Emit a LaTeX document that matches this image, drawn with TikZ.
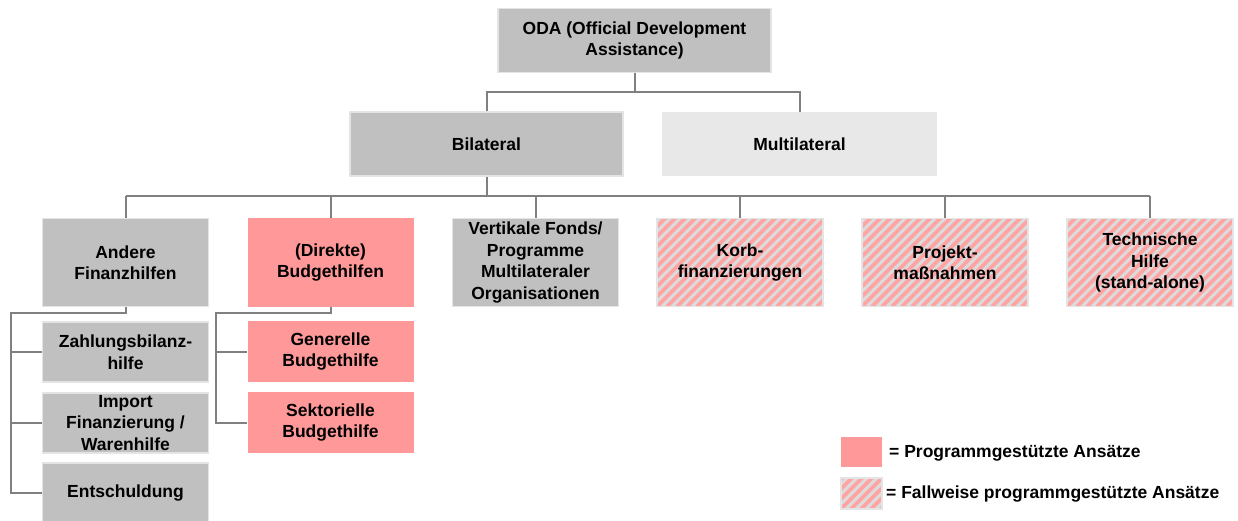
\documentclass[tikz,border=0pt]{standalone}
\usepackage{fontspec}
\setmainfont{Liberation Sans}
\definecolor{boxgray}{HTML}{C0C0C0}
\definecolor{boxlight}{HTML}{E8E8E8}
\definecolor{boxedge}{HTML}{E4E4E4}
\definecolor{boxpink}{HTML}{FF9999}
\definecolor{hatchbg}{HTML}{DCDCDC}
\definecolor{hatchpink}{HTML}{FFA3A3}
\definecolor{linegray}{HTML}{808080}
\tikzset{
  box/.style={rectangle, inner sep=0pt, align=center,
    font=\fontsize{17.5}{21.5}\selectfont\bfseries},
  graybox/.style={box, fill=boxgray, draw=boxedge, line width=1.5pt},
  lightbox/.style={box, fill=boxlight},
  pinkbox/.style={box, fill=boxpink},
  hatchbox/.style={box, fill=hatchbg, draw=boxedge, line width=1.5pt,
    path picture={
      \foreach \i in {-100,-90,...,180}{
        \draw[hatchpink, line width=3.6pt]
          ([xshift=\i pt]path picture bounding box.south west) -- ++(120,-120);
      }
    }},
  conn/.style={draw=linegray, line width=2pt},
  legtext/.style={anchor=west, inner sep=0pt,
    font=\fontsize{17.5}{21.5}\selectfont\bfseries}
}
\begin{document}
\begin{tikzpicture}[x=1pt,y=-1pt]
\useasboundingbox (0,0) rectangle (1238,521);
% top levels
\node[graybox, minimum width=273pt, minimum height=64pt] (oda) at (634.5,40.5) {ODA (Official Development\\Assistance)};
\node[graybox, minimum width=273pt, minimum height=64pt] (bil) at (486.5,144) {Bilateral};
\node[lightbox, minimum width=275pt, minimum height=64pt] (mul) at (799.5,144) {Multilateral};
% second row
\node[graybox, minimum width=166pt, minimum height=88pt] (b1) at (125.5,262.5) {Andere\\Finanzhilfen};
\node[pinkbox, minimum width=166pt, minimum height=88pt] (b2) at (330.5,262.5) {(Direkte)\\Budgethilfen};
\node[graybox, minimum width=166pt, minimum height=88pt] (b3) at (535.5,262.5) {Vertikale Fonds/\\Programme\\Multilateraler\\Organisationen};
\node[hatchbox, minimum width=166pt, minimum height=88pt] (b4) at (740,262.5) {Korb-\\finanzierungen};
\node[hatchbox, minimum width=166pt, minimum height=88pt] (b5) at (945,262.5) {Projekt-\\maßnahmen};
\node[hatchbox, minimum width=166pt, minimum height=88pt] (b6) at (1150,262.5) {Technische\\Hilfe\\(stand-alone)};
% sub boxes left
\node[graybox, minimum width=166pt, minimum height=60pt] (zah) at (125.5,352) {Zahlungsbilanz-\\hilfe};
\node[graybox, minimum width=166pt, minimum height=60pt] (imp) at (125.5,423) {Import\\Finanzierung /\\Warenhilfe};
\node[graybox, minimum width=166pt, minimum height=60pt] (ent) at (125.5,493) {Entschuldung};
% sub boxes budget
\node[pinkbox, minimum width=166pt, minimum height=61pt] (gen) at (330.5,351.5) {Generelle\\Budgethilfe};
\node[pinkbox, minimum width=166pt, minimum height=61pt] (sek) at (330.5,422.5) {Sektorielle\\Budgethilfe};
% legend
\node[pinkbox, minimum width=41pt, minimum height=30pt] (lg1) at (861.5,452) {};
\node[hatchbox, minimum width=41pt, minimum height=31pt] (lg2) at (861.5,493.5) {};
\node[legtext] (lt1) at (889,453) {= Programmgestützte Ansätze};
\node[legtext] (lt2) at (886,494) {= Fallweise programmgestützte Ansätze};
% connectors
\coordinate (j1) at (634.5,92);
\draw[conn] (oda.south) -- (j1);
\draw[conn] (bil.north) |- (j1) -| (mul.north);
\coordinate (h2) at (0,196);
\draw[conn] (bil.south) -- (bil.south |- h2);
\draw[conn] (b1.north |- h2) -- (b6.north |- h2);
\foreach \b in {b1,b2,b3,b4,b5,b6}{
  \draw[conn] (\b.north) -- (\b.north |- h2);
}
\coordinate (s1) at (11,313);
\draw[conn] (b1.south) |- (s1) -- (s1 |- ent.west) -- (ent.west);
\draw[conn] (s1 |- zah.west) -- (zah.west);
\draw[conn] (s1 |- imp.west) -- (imp.west);
\coordinate (s2) at (216,313);
\draw[conn] (b2.south) |- (s2) -- (s2 |- sek.west) -- (sek.west);
\draw[conn] (s2 |- gen.west) -- (gen.west);
\end{tikzpicture}
\end{document}
